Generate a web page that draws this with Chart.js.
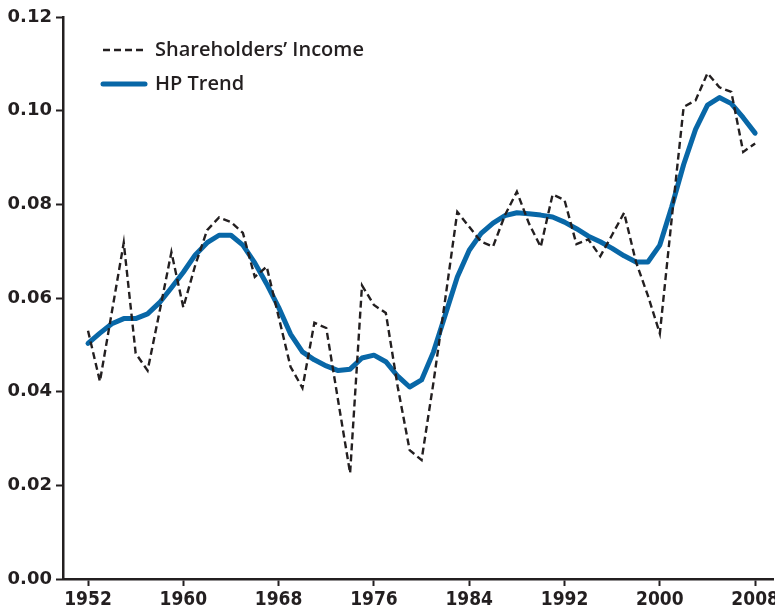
<!DOCTYPE html>
<html>
<head>
<meta charset="utf-8">
<script src="https://cdn.jsdelivr.net/npm/chart.js@4.4.1/dist/chart.umd.min.js"></script>
<style>
  body{margin:0;background:#fff}
  #wrap{width:775px;height:615px}
</style>
</head>
<body>
<div id="wrap"><canvas id="mychart" width="775" height="615"></canvas></div>
<script>
var years=[1952,1953,1954,1955,1956,1957,1958,1959,1960,1961,1962,1963,1964,1965,1966,1967,1968,1969,1970,
  1971,1972,1973,1974,1975,1976,1977,1978,1979,1980,1981,1982,1983,1984,1985,1986,1987,1988,1989,1990,
  1991,1992,1993,1994,1995,1996,1997,1998,1999,2000,2001,2002,2003,2004,2005,2006,2007,2008]

var income=[0.0530,0.0422,0.0570,0.0718,0.0482,0.0445,0.0570,0.0698,0.0580,0.0670,0.0745,0.0772,0.0762,0.0739,0.0645,0.0667,0.0560,0.0453,0.0408,
  0.0547,0.0536,0.0380,0.0226,0.0627,0.0585,0.0568,0.0410,0.0275,0.0254,0.0420,0.0600,0.0784,0.0752,0.0720,0.0710,0.0777,0.0827,0.0760,0.0709,
  0.0821,0.0809,0.0715,0.0725,0.0689,0.0735,0.0782,0.0677,0.0605,0.0524,0.0770,0.1008,0.1022,0.1080,0.1050,0.1040,0.0912,0.0930]

var trend=[0.0503,0.0525,0.0545,0.0556,0.0556,0.0566,0.0590,0.0622,0.0655,0.0692,0.0718,0.0734,0.0734,0.0713,0.0675,0.0630,0.0580,0.0523,0.0485,
  0.0468,0.0455,0.0445,0.0448,0.0472,0.0478,0.0464,0.0433,0.0410,0.0425,0.0485,0.0565,0.0645,0.0702,0.0738,0.0760,0.0776,0.0782,0.0780,0.0777,
  0.0773,0.0762,0.0748,0.0732,0.0720,0.0706,0.0690,0.0677,0.0677,0.0713,0.0795,0.0885,0.0960,0.1012,0.1028,0.1015,0.0985,0.0952]

var xTicks=[1952,1960,1968,1976,1984,1992,2000,2008]
var yTicks=[0,0.02,0.04,0.06,0.08,0.10,0.12]

var ink="#231f20"
var blue="#0867a7"

function points(vals){
  return years.map(function(yr,i){ return {x:yr,y:vals[i]} })
}

// legend sits inside the plot, top left
var insideLegend={
  id:'insideLegend',
  afterDraw:function(chart){
    var ctx=chart.ctx
    ctx.save()
    chart.data.datasets.forEach(function(ds,i){
      var y=50+i*34
      ctx.beginPath()
      ctx.setLineDash(ds.borderDash||[])
      ctx.lineWidth=ds.borderWidth
      ctx.strokeStyle=ds.borderColor
      ctx.lineCap=ds.borderDash ? 'butt' : 'round'
      ctx.moveTo(103,y)
      ctx.lineTo(ds.borderDash ? 143 : 145,y)
      ctx.stroke()
      ctx.setLineDash([])
      ctx.fillStyle=ink
      ctx.font="600 20px 'Open Sans'"
      ctx.textBaseline='middle'
      ctx.fillText(ds.label,155,y)
    })
    ctx.restore()
  }
}

var chart=new Chart(document.getElementById("mychart").getContext('2d'),{
  type:'line',
  data:{
    datasets:[
      {
        label:"Shareholders\u2019 Income",
        data:points(income),
        borderColor:ink,
        borderWidth:2.4,
        borderDash:[7,4],
        pointRadius:0,
        fill:false,
        tension:0
      },
      {
        label:"HP Trend",
        data:points(trend),
        borderColor:blue,
        borderWidth:5,
        borderCapStyle:'round',
        borderJoinStyle:'round',
        pointRadius:0,
        fill:false,
        tension:0
      }
    ]
  },
  options:{
    responsive:false,
    animation:false,
    layout:{padding:{top:17,right:2,left:0,bottom:0}},
    plugins:{legend:{display:false},tooltip:{enabled:false}},
    scales:{
      x:{
        type:'linear',
        min:1949.9,
        max:2009.5,
        afterBuildTicks:function(scale){ scale.ticks=xTicks.map(function(v){return {value:v}}) },
        afterFit:function(scale){ scale.height=36; scale.paddingLeft=0; scale.paddingRight=0 },
        grid:{display:true,drawOnChartArea:false,drawTicks:true,tickLength:7,tickWidth:2,tickColor:ink},
        border:{display:true,color:ink,width:2.5},
        ticks:{
          color:ink,
          padding:3,
          maxRotation:0,
          autoSkip:false,
          font:{family:"'DejaVu Sans Condensed', 'DejaVu Sans'",weight:'bold',size:19},
          callback:function(v){ return String(v) }
        }
      },
      y:{
        min:0,
        max:0.12,
        afterBuildTicks:function(scale){ scale.ticks=yTicks.map(function(v){return {value:v}}) },
        afterFit:function(scale){ scale.width=63; scale.paddingTop=0; scale.paddingBottom=0 },
        grid:{display:true,drawOnChartArea:false,drawTicks:true,tickLength:7,tickWidth:2,tickColor:ink},
        border:{display:true,color:ink,width:2.5},
        ticks:{
          color:ink,
          padding:4,
          font:{family:"'DejaVu Sans'",weight:'bold',size:18},
          callback:function(v){ return v.toFixed(2) }
        }
      }
    }
  },
  plugins:[insideLegend]
})
</script>
</body>
</html>
